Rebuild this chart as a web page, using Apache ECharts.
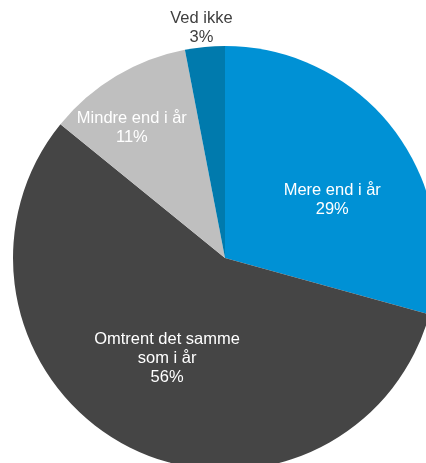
<!DOCTYPE html>
<html>
<head>
<meta charset="utf-8">
<script src="https://cdn.jsdelivr.net/npm/echarts@6/dist/echarts.min.js"></script>
<style>
html,body{margin:0;padding:0;background:#fff;}
#chart{width:426px;height:463px;}
</style>
</head>
<body>
<div id="chart"></div>
<script>
const categories = ['Mere end i år', 'Omtrent det samme som i år', 'Mindre end i år', 'Ved ikke'];
const values = [29, 56, 11, 3];
const sliceColors = ['#0091D5', '#454545', '#BFBFBF', '#007AAD'];
const labelColors = ['#FFFFFF', '#FFFFFF', '#FFFFFF', '#404040'];

const CX = 225, CY = 258, R = 212;
// label placement per slice: distance from centre and small angular nudge (deg, clockwise)
const labelDist = [122, 116, 160, 231];
const labelRot = [8.8, 2.7, -4.7, -0.4];

function fmt(p) {
  return p.name.replace(' som ', '\nsom ') + '\n' + p.value + '%';
}

const data = categories.map((c, i) => ({ name: c, value: values[i], itemStyle: { color: sliceColors[i] } }));

const series = [{
  type: 'pie',
  center: [CX, CY],
  radius: [0, R],
  startAngle: 90,
  clockwise: true,
  silent: true,
  label: { show: false },
  labelLine: { show: false },
  data: data
}];

categories.forEach((c, idx) => {
  const m = labelDist[idx] - 3;
  series.push({
    type: 'pie',
    center: [CX, CY],
    radius: [m - 10, m + 10],
    startAngle: 90 - labelRot[idx],
    clockwise: true,
    silent: true,
    z: 5,
    itemStyle: { color: 'rgba(0,0,0,0)' },
    labelLine: { show: false },
    data: categories.map((n, i) => ({
      name: n,
      value: values[i],
      itemStyle: { color: 'rgba(0,0,0,0)' },
      label: {
        show: i === idx,
        position: 'inside',
        formatter: fmt,
        color: labelColors[i],
        fontFamily: 'Liberation Sans, Arial, sans-serif',
        fontSize: 16.5,
        lineHeight: 19,
        align: 'center'
      }
    }))
  });
});

const chart = echarts.init(document.getElementById('chart'), null, { renderer: 'canvas' });
chart.setOption({ animation: false, series: series });
</script>
</body>
</html>
